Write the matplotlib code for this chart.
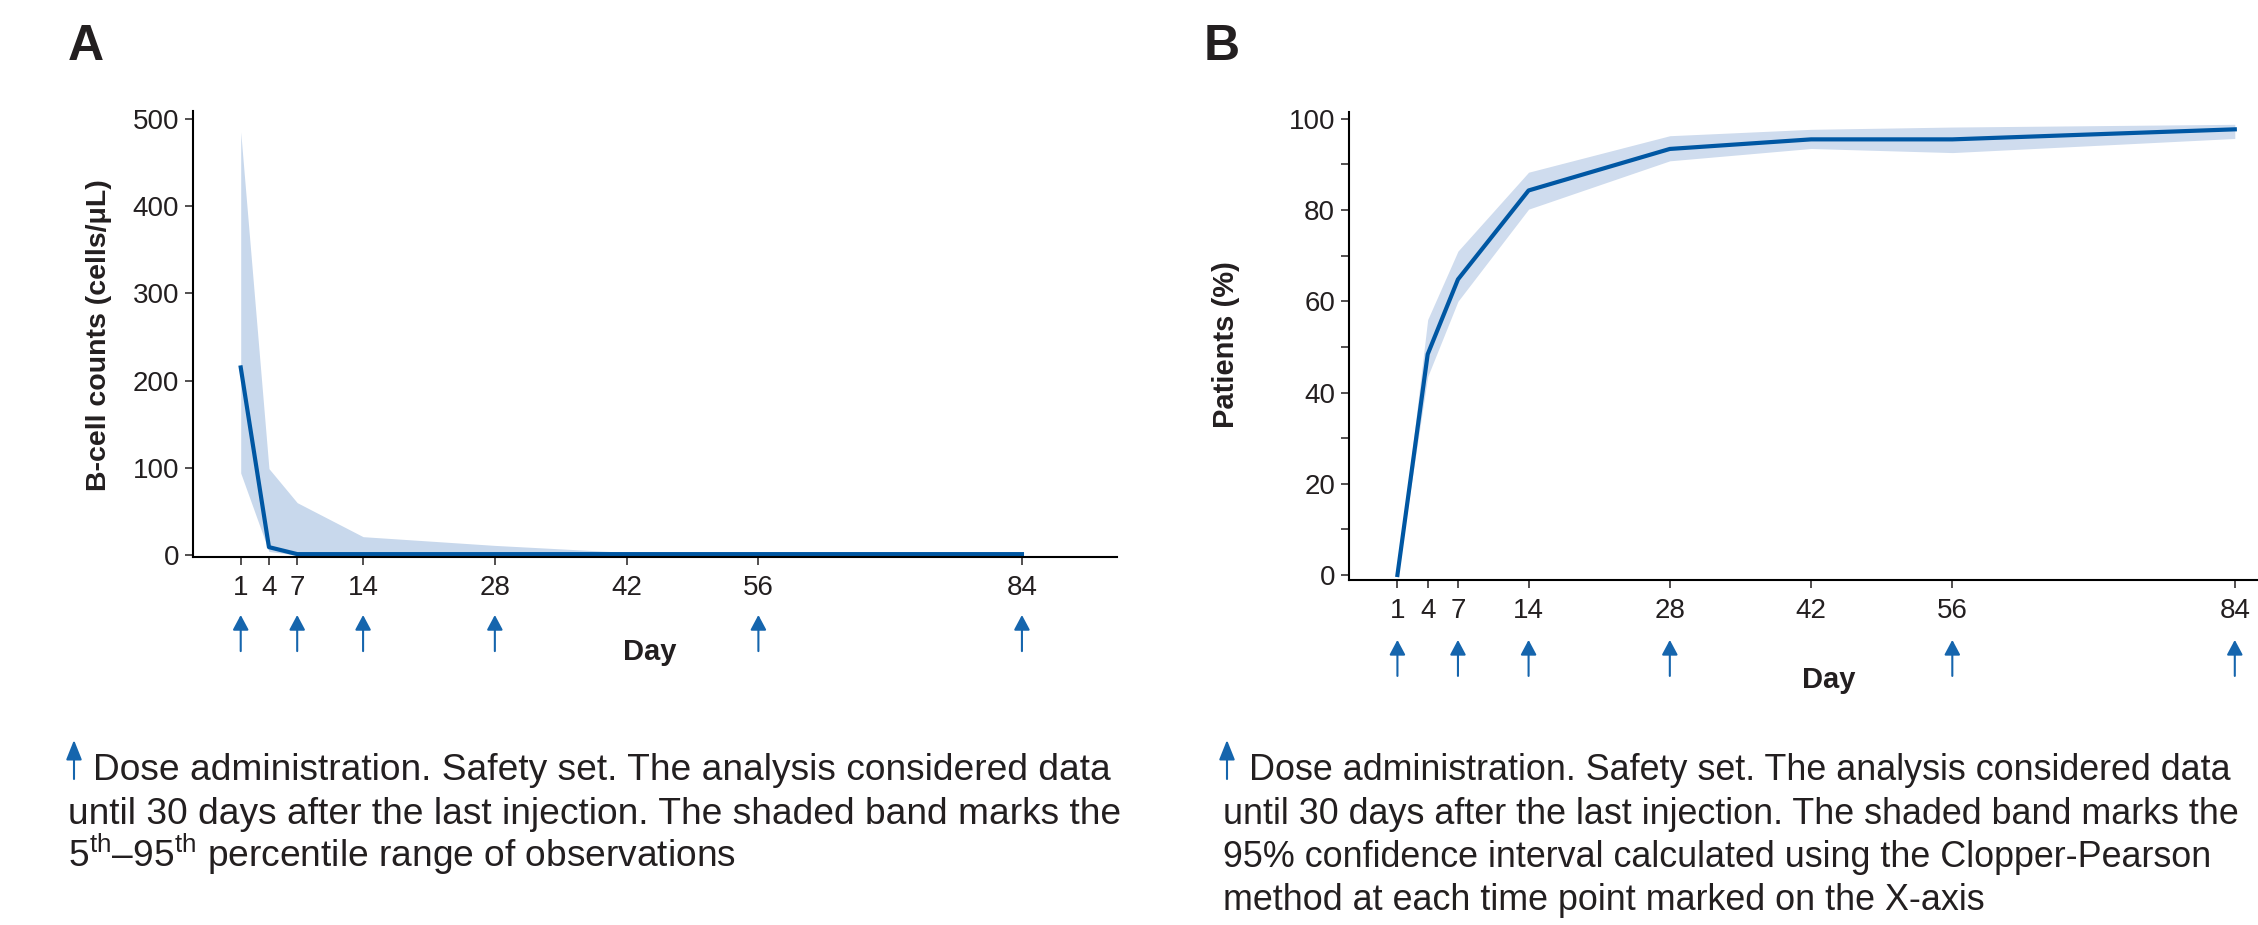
import matplotlib
matplotlib.use("Agg")
import matplotlib.pyplot as plt
from matplotlib.patches import FancyArrowPatch

plt.rcParams['font.family'] = ['Liberation Sans', 'DejaVu Sans']
plt.rcParams['mathtext.fontset'] = 'custom'
plt.rcParams['mathtext.rm'] = 'Liberation Sans'

# Données
days = [1, 4, 7, 14, 28, 42, 56, 84]
tick_days = [1, 4, 7, 14, 28, 42, 56, 84]
dose_days = [1, 7, 14, 28, 56, 84]

bcell_median = [215, 9, 1, 1, 1, 1, 1, 1]
bcell_p5 = [94, 4, 0, 0, 0, 0, 0, 0]
bcell_p95 = [485, 99, 60, 21, 11, 3, 3, 2]

patients_pct = [0, 48.4, 64.8, 84.3, 93.4, 95.5, 95.5, 97.7]
patients_lo = [0, 43.5, 60.0, 80.2, 90.8, 93.5, 92.6, 95.7]
patients_hi = [0, 56.0, 71.0, 88.3, 96.3, 97.7, 98.2, 98.8]

caption_a = ["Dose administration. Safety set. The analysis considered data",
             "until 30 days after the last injection. The shaded band marks the",
             r"5$^{\mathrm{th}}$–95$^{\mathrm{th}}$ percentile range of observations"]
caption_b = ["Dose administration. Safety set. The analysis considered data",
             "until 30 days after the last injection. The shaded band marks the",
             "95% confidence interval calculated using the Clopper-Pearson",
             "method at each time point marked on the X-axis"]

line_color = '#0057a3'
band_a_color = '#c8d8ec'
band_b_color = '#cfdcee'
arrow_color = '#1565ad'
text_color = '#231f20'

W, H = 2258, 925
fig = plt.figure(figsize=(W / 100, H / 100), dpi=100)


def style_axis(ax):
    for s in ['top', 'right']:
        ax.spines[s].set_visible(False)
    for s in ['left', 'bottom']:
        ax.spines[s].set_linewidth(1.5)
    ax.tick_params(axis='both', which='both', direction='out', length=6,
                   width=1.1, labelsize=20, colors=text_color)
    ax.tick_params(axis='x', pad=7)
    ax.tick_params(axis='y', pad=4)
    ax.set_xticks(tick_days)
    ax.set_xticklabels([str(d) for d in tick_days])


def dose_arrows(ax, y_head, y_tail):
    for d in dose_days:
        ax.annotate('', xy=(d, y_head), xytext=(d, y_tail),
                    xycoords=('data', 'axes fraction'),
                    textcoords=('data', 'axes fraction'),
                    arrowprops=dict(arrowstyle='-|>,head_length=0.45,head_width=0.24',
                                    color=arrow_color, lw=1.5, mutation_scale=20,
                                    shrinkA=0, shrinkB=0),
                    annotation_clip=False)


# Panneau A
ax1 = fig.add_axes([193 / W, 1 - 557 / H, (1117 - 193) / W, (557 - 111) / H])
ax1.fill_between(days, bcell_p5, bcell_p95, color=band_a_color, lw=0)
ax1.plot(days, bcell_median, color=line_color, lw=3)
ax1.set_xlim(-4.07, 94.1)
ax1.set_ylim(-2.3, 509)
ax1.set_yticks([0, 100, 200, 300, 400, 500])
style_axis(ax1)
dose_arrows(ax1, -0.130, -0.211)

# Panneau B
ax2 = fig.add_axes([1349 / W, 1 - 580 / H, (W - 1349) / W, (580 - 112) / H])
ax2.fill_between(days, patients_lo, patients_hi, color=band_b_color, lw=0)
ax2.plot(days, patients_pct, color=line_color, lw=3)
ax2.set_xlim(-3.8, 86.3)
ax2.set_ylim(-1.1, 101.5)
ax2.set_yticks([0, 20, 40, 60, 80, 100])
ax2.set_yticks([10, 30, 50, 70, 90], minor=True)
style_axis(ax2)
dose_arrows(ax2, -0.128, -0.205)

# Titres et étiquettes
fig.text(68 / W, 1 - 47 / H, 'A', fontsize=36, fontweight='bold',
         color=text_color, va='center', ha='left')
fig.text(1204 / W, 1 - 47 / H, 'B', fontsize=36, fontweight='bold',
         color=text_color, va='center', ha='left')

fig.text(99 / W, 1 - 335 / H, 'B-cell counts (cells/μL)', rotation=90,
         fontsize=20.5, fontweight='bold', color=text_color,
         va='center', ha='center')
fig.text(1226 / W, 1 - 345 / H, 'Patients (%)', rotation=90,
         fontsize=21, fontweight='bold', color=text_color,
         va='center', ha='center')

fig.text(650 / W, 1 - 652 / H, 'Day', fontsize=21, fontweight='bold',
         color=text_color, va='center', ha='center')
fig.text(1829 / W, 1 - 680 / H, 'Day', fontsize=21, fontweight='bold',
         color=text_color, va='center', ha='center')

# Légendes sous les graphiques : la première ligne est décalée par la flèche
baselines = [780, 823.5, 867, 910.5]


def caption(x_arrow, x_first, x_text, lines, size):
    fig.add_artist(FancyArrowPatch(
        (x_arrow / W, 1 - 779 / H), (x_arrow / W, 1 - 740 / H),
        transform=fig.transFigure,
        arrowstyle='-|>,head_length=0.6,head_width=0.24',
        color=arrow_color, lw=1.5, mutation_scale=20, shrinkA=0, shrinkB=0))
    for i, txt in enumerate(lines):
        x = x_first if i == 0 else x_text
        fig.text(x / W, 1 - baselines[i] / H, txt, fontsize=size,
                 color=text_color, va='baseline', ha='left')


caption(74, 93, 68, caption_a, 26.7)
caption(1227, 1249, 1223, caption_b, 25.8)

fig.savefig('out.png', dpi=100)
